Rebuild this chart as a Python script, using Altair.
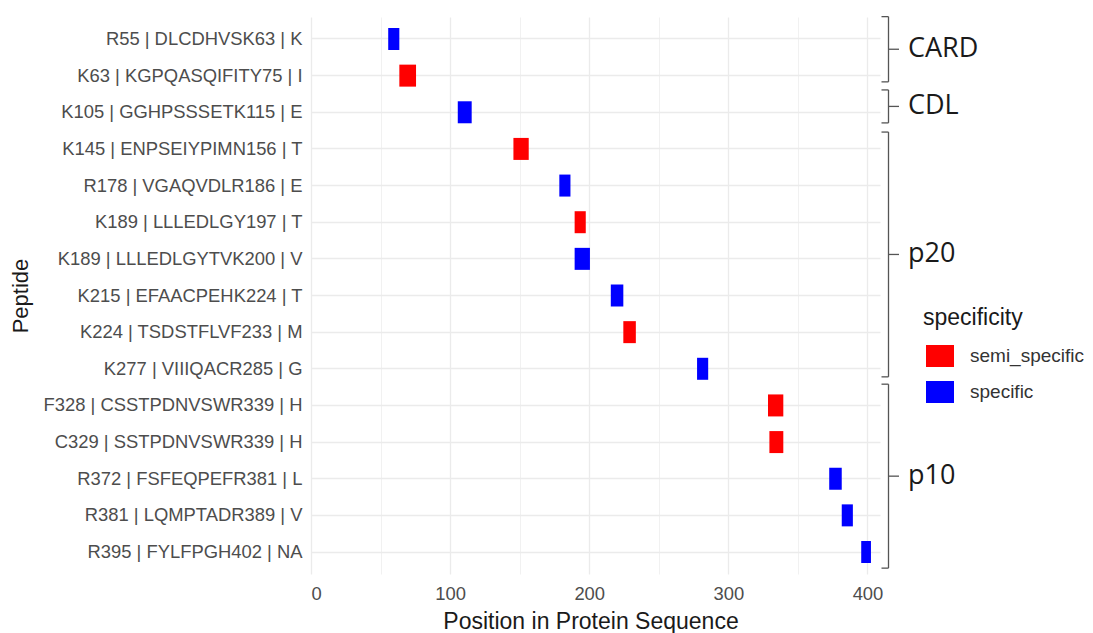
import altair as alt
import pandas as pd

# ---- data ----
peptides = [
    "R55 | DLCDHVSK63 | K",
    "K63 | KGPQASQIFITY75 | I",
    "K105 | GGHPSSSETK115 | E",
    "K145 | ENPSEIYPIMN156 | T",
    "R178 | VGAQVDLR186 | E",
    "K189 | LLLEDLGY197 | T",
    "K189 | LLLEDLGYTVK200 | V",
    "K215 | EFAACPEHK224 | T",
    "K224 | TSDSTFLVF233 | M",
    "K277 | VIIIQACR285 | G",
    "F328 | CSSTPDNVSWR339 | H",
    "C329 | SSTPDNVSWR339 | H",
    "R372 | FSFEQPEFR381 | L",
    "R381 | LQMPTADR389 | V",
    "R395 | FYLFPGH402 | NA",
]
starts = [56, 64, 106, 146, 179, 190, 190, 216, 225, 278, 329, 330, 373, 382, 396]
ends = [63, 75, 115, 156, 186, 197, 200, 224, 233, 285, 339, 339, 381, 389, 402]
specificity = [
    "specific", "semi_specific", "specific", "semi_specific", "specific",
    "semi_specific", "specific", "specific", "semi_specific", "specific",
    "semi_specific", "semi_specific", "specific", "specific", "specific",
]

# domain brackets (in row units, 0 = top row)
groups = ["CARD", "CDL", "p20", "p10"]
group_top = [-0.61, 1.39, 2.54, 9.42]
group_bottom = [1.17, 2.29, 9.22, 14.44]

x_ticks = [0, 50, 100, 150, 200, 250, 300, 350, 400]

df = pd.DataFrame({"peptide": peptides, "start": starts, "end": ends,
                   "specificity": specificity})
gdf = pd.DataFrame({"group": groups, "top": group_top, "bottom": group_bottom})

W, H = 569, 557
AX_FONT = "Liberation Sans"

bars = alt.Chart(df).transform_calculate(
    x0="datum.start - 0.5", x1="datum.end + 0.5"
).mark_bar(size=22).encode(
    x=alt.X("x0:Q", title="Position in Protein Sequence",
            scale=alt.Scale(domain=[0, 409], nice=False, zero=False),
            axis=alt.Axis(values=x_ticks,
                          labelExpr="datum.value % 100 === 0 ? datum.label : ''",
                          labelFontSize=18.4, labelColor="#4D4D4D", labelPadding=10,
                          titleFontSize=23, titleColor="#1A1A1A", titleFontWeight="normal",
                          titleX=W / 2 - 5, titleY=47, titleBaseline="middle",
                          gridWidth={"condition": {"test": "datum.value % 100 === 0", "value": 1.3},
                                     "value": 0.7})),
    x2="x1:Q",
    y=alt.Y("peptide:N", sort=peptides, title="Peptide",
            scale=alt.Scale(paddingInner=0, paddingOuter=0.1),
            axis=alt.Axis(bandPosition=0.5, grid=True, labelFontSize=18.4,
                          labelColor="#4D4D4D",
                          labelPadding=9, labelLimit=500, gridWidth=1.3,
                          titleFontSize=22, titleColor="#1A1A1A", titleFontWeight="normal",
                          titleAngle=270, titleX=-291, titleY=278.5,
                          titleBaseline="middle", titleAlign="center")),
    color=alt.Color("specificity:N",
                    scale=alt.Scale(domain=["semi_specific", "specific"],
                                    range=["#FF0000", "#0000FF"]),
                    legend=alt.Legend(orient="none", legendX=612, legendY=290,
                                      title="specificity", titleFontSize=23,
                                      titleFont=AX_FONT, titleColor="#1A1A1A",
                                      titleFontWeight="normal", titlePadding=15,
                                      labelFont=AX_FONT, labelFontSize=19, labelColor="#333333",
                                      labelLimit=300,
                                      symbolType="M-1.273,-1L1.273,-1L1.273,1L-1.273,1Z",
                                      symbolSize=484, symbolStrokeWidth=0, symbolOpacity=1,
                                      symbolOffset=6, labelOffset=19, rowPadding=14,
                                      padding=0)),
)

ys = alt.Scale(domain=[-0.6, 14.6], reverse=True, nice=False, zero=False)
BR = "#555555"
VX, HX, TX = 577.5, 570.5, 588

vert = alt.Chart(gdf).mark_rule(color=BR, strokeWidth=1.3).encode(
    x=alt.value(VX), y=alt.Y("top:Q", scale=ys, axis=None), y2="bottom:Q")
hook_top = alt.Chart(gdf).mark_rule(color=BR, strokeWidth=1.3).encode(
    x=alt.value(HX), x2=alt.value(VX), y=alt.Y("top:Q", scale=ys, axis=None))
hook_bot = alt.Chart(gdf).mark_rule(color=BR, strokeWidth=1.3).encode(
    x=alt.value(HX), x2=alt.value(VX), y=alt.Y("bottom:Q", scale=ys, axis=None))
tick = alt.Chart(gdf).transform_calculate(
    mid="(datum.top + datum.bottom) / 2"
).mark_rule(color=BR, strokeWidth=1.3).encode(
    x=alt.value(VX), x2=alt.value(TX), y=alt.Y("mid:Q", scale=ys, axis=None))
labels = alt.Chart(gdf).transform_calculate(
    mid="(datum.top + datum.bottom) / 2"
).mark_text(align="left", baseline="middle", font="Open Sans", fontSize=27,
            color="#1A1A1A").encode(
    x=alt.value(597), y=alt.Y("mid:Q", scale=ys, axis=None), text="group:N")

chart = alt.layer(bars, vert, hook_top, hook_bot, tick, labels).resolve_scale(
    y="independent"
).properties(
    width=W, height=H, autosize="none",
    padding={"left": 303, "top": 9, "right": 205, "bottom": 59},
).configure_view(stroke=None).configure_axis(
    labelFont=AX_FONT, titleFont=AX_FONT, domain=False, ticks=False,
    gridColor="#EBEBEB",
)

chart.save("out.html", embed_options={"renderer": "svg", "actions": False})
